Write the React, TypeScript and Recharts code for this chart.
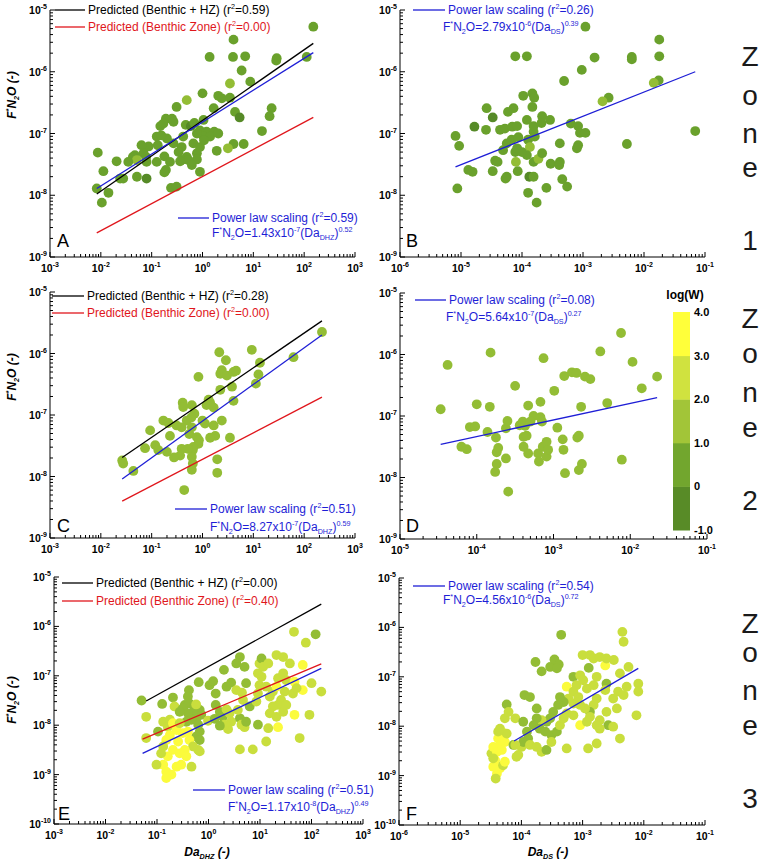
import React from "react";
import { ScatterChart, Scatter, XAxis, YAxis } from "recharts";

const FONT = "'Liberation Sans', Arial, sans-serif";

// point colours per log(W) class (-1..0, 0..1, 1..2, 2..3, 3..4)
const pointColors = ["#568a27", "#6aa12c", "#93bd35", "#c9de3d", "#fbfb3c"];
const barColors = ["#588b27", "#72a62e", "#a2c538", "#d0e23f", "#ffff3a"];
const barLabels = ["-1.0", "0", "1.0", "2.0", "3.0", "4.0"];

// all values are log10: [Da, F*N2O, log(W) class]
// Zone 1 vs Da_DHZ (panel A)
const zone1Dhz = [
  [2.18,-5.27,1],[0.61,-5.48,1],[0.14,-5.76,1],[0.6,-5.76,1],[0.84,-5.75,1],[1.46,-5.78,1],[1.45,-5.82,1],[2.05,-5.76,1],
  [0.77,-5.98,1],[0.94,-6.16,1],[0.54,-6.19,2],[0.0,-6.35,1],[-0.31,-6.46,2],[0.31,-6.39,1],[0.38,-6.43,1],[0.54,-6.42,1],
  [-0.51,-6.57,1],[0.22,-6.59,1],[0.64,-6.65,1],[0.73,-6.74,0],[1.36,-6.59,1],[1.32,-6.72,1],[1.17,-6.96,1],[-0.72,-6.76,1],
  [-0.6,-6.76,1],[-0.57,-6.81,1],[-0.83,-6.88,1],[-0.77,-6.84,1],[-0.33,-6.86,1],[-0.23,-6.88,0],[-0.16,-6.83,1],[-0.05,-6.95,1],
  [0.08,-6.97,1],[0.23,-6.97,1],[0.02,-7.05,1],[-0.11,-7.0,1],[0.15,-7.05,1],[-0.38,-7.05,1],[-0.57,-7.16,1],[-0.41,-7.22,1],
  [-0.18,-7.16,1],[-0.05,-7.22,1],[0.03,-7.11,1],[-0.11,-7.32,1],[-0.31,-7.38,1],[-0.47,-7.3,1],[-0.41,-7.43,1],[-0.28,-7.43,1],
  [-0.11,-7.42,1],[-0.21,-7.51,1],[-0.05,-7.62,1],[-0.44,-7.45,1],[-0.7,-7.08,1],[-0.88,-7.19,1],[-0.75,-7.37,1],[-0.64,-7.46,1],
  [-0.72,-7.59,1],[-0.75,-7.63,1],[-0.62,-7.88,1],[-0.51,-7.86,1],[-0.9,-7.46,1],[-1.1,-7.46,1],[-1.06,-7.21,1],[-1.2,-7.19,1],
  [-1.16,-7.32,1],[-1.11,-7.38,1],[-1.33,-7.35,1],[-1.37,-7.38,1],[-1.29,-7.43,2],[-1.46,-7.46,1],[-1.69,-7.45,1],[-1.1,-7.73,0],
  [-1.29,-7.7,1],[-1.62,-7.73,1],[-1.56,-7.73,1],[-1.95,-7.61,1],[-2.06,-7.31,1],[-2.08,-7.89,1],[-1.85,-7.96,1],[-1.98,-8.12,1],
  [0.61,-7.17,1],[0.5,-7.24,2],[0.28,-7.28,1],[0.81,-7.17,1],[-0.9,-7.05,1],[-0.81,-7.03,1],[0.31,-7.0,1],[0.02,-6.78,1],
];

// Zone 1 vs Da_DS (panel B)
const zone1Ds = [
  [-2.96,-5.27,1],[-4.11,-5.75,1],[-3.92,-5.75,1],[-2.81,-5.77,1],[-2.2,-5.76,1],[-2.2,-5.8,1],[-1.75,-5.48,1],[-1.75,-5.75,1],
  [-3.02,-5.97,1],[-3.31,-6.15,1],[-1.76,-6.14,1],[-1.84,-6.18,2],[-2.58,-6.42,1],[-2.68,-6.48,2],[-3.98,-6.39,1],[-3.83,-6.35,1],
  [-3.8,-6.42,1],[-3.83,-6.57,1],[-4.58,-6.59,1],[-4.14,-6.59,1],[-4.23,-6.65,1],[-3.92,-6.78,1],[-3.67,-6.72,1],[-3.54,-6.78,1],
  [-3.68,-6.83,1],[-4.48,-6.74,0],[-4.78,-6.89,0],[-4.59,-6.94,1],[-4.36,-6.94,1],[-4.28,-6.92,1],[-4.16,-6.89,1],[-4.08,-6.88,1],
  [-5.09,-7.04,1],[-5.03,-7.2,1],[-5.06,-7.89,1],[-4.88,-7.59,1],[-4.81,-7.62,1],[-4.48,-7.61,1],[-4.44,-7.44,1],[-4.4,-7.46,1],
  [-4.25,-7.7,1],[-4.27,-7.73,1],[-4.31,-7.27,1],[-4.25,-7.16,1],[-4.11,-7.3,1],[-4.1,-7.46,2],[-4.07,-7.61,1],[-4.17,-7.1,1],
  [-4.06,-7.06,1],[-3.9,-7.1,1],[-3.81,-6.97,1],[-3.79,-7.05,1],[-3.87,-7.22,2],[-3.92,-7.35,1],[-3.81,-7.46,1],[-3.88,-7.7,0],
  [-3.81,-7.7,1],[-3.9,-7.96,1],[-3.76,-8.12,1],[-3.73,-7.41,2],[-3.67,-7.32,1],[-3.53,-7.49,1],[-3.6,-7.88,1],[-3.38,-7.16,1],
  [-3.38,-7.46,1],[-3.39,-7.51,1],[-3.34,-7.74,1],[-3.26,-7.86,1],[-3.2,-6.84,1],[-3.08,-6.88,1],[-3.05,-6.99,1],[-2.96,-6.99,1],
  [-3.08,-7.19,1],[-3.1,-7.24,1],[-2.28,-7.17,1],[-1.16,-6.96,1],[-3.81,-6.88,1],[-4.08,-7.24,1],[-4.0,-7.3,1],
];

// Zone 2 (all in the 1-2 class): [Da, F*N2O]
const zone2Dhz = [
  [2.35,-5.65],[1.79,-6.06],[1.13,-6.15],[1.1,-6.34],[1.05,-6.49],[0.97,-5.94],[0.33,-5.98],[0.46,-6.11],[0.38,-6.27],
  [0.35,-6.33],[0.48,-6.36],[0.61,-6.3],[0.66,-6.28],[-0.08,-6.38],[0.35,-6.59],[0.58,-6.54],[0.61,-6.77],[0.12,-6.75],
  [0.15,-6.8],[0.08,-6.84],[0.22,-6.88],[-0.39,-6.8],[-0.21,-6.84],[-0.38,-6.87],[-0.16,-6.98],[-0.22,-7.04],[-0.31,-7.09],
  [0.0,-7.09],[0.05,-7.14],[0.22,-7.17],[0.38,-7.09],[0.54,-7.37],[0.25,-7.34],[0.15,-7.37],[-0.77,-7.09],[-0.67,-7.13],
  [-0.51,-7.17],[-0.41,-7.2],[-1.03,-7.25],[-0.64,-7.34],[-0.26,-7.31],[-0.21,-7.2],[-0.11,-7.36],[-0.08,-7.47],[-0.18,-7.52],
  [-0.19,-7.57],[-0.29,-7.55],[-0.41,-7.55],[-0.44,-7.66],[-0.21,-7.68],[-0.19,-7.79],[-0.21,-7.89],[-0.93,-7.49],[-0.87,-7.57],
  [-0.7,-7.6],[-0.56,-7.69],[-1.13,-7.54],[-1.58,-7.74],[-1.56,-7.79],[-1.36,-7.91],[0.29,-7.72],[0.29,-7.94],[-0.36,-8.22],
  [-0.07,-7.41],
];

const zone2Ds = [
  [-4.47,-6.89],[-4.38,-6.17],[-3.82,-5.97],[-3.13,-6.06],[-2.12,-5.65],[-2.39,-5.95],[-1.97,-6.12],[-1.65,-6.36],[-1.85,-6.55],
  [-2.86,-6.35],[-2.76,-6.29],[-2.7,-6.3],[-2.59,-6.36],[-2.52,-6.4],[-2.99,-6.59],[-3.5,-6.51],[-3.17,-6.77],[-4.0,-6.81],
  [-3.83,-6.85],[-3.33,-6.83],[-2.64,-6.85],[-2.3,-6.79],[-4.09,-7.18],[-4.02,-7.17],[-3.86,-7.26],[-3.75,-7.35],[-3.62,-7.2],
  [-3.6,-7.08],[-3.44,-7.15],[-3.4,-7.09],[-3.37,-7.16],[-3.26,-7.0],[-3.3,-7.09],[-3.17,-7.02],[-3.15,-7.09],[-2.95,-7.19],
  [-3.39,-7.34],[-3.35,-7.32],[-3.39,-7.5],[-3.33,-7.61],[-3.2,-7.61],[-3.14,-7.5],[-3.09,-7.42],[-3.09,-7.66],[-3.07,-7.55],
  [-3.19,-7.74],[-2.88,-7.38],[-2.87,-7.55],[-2.69,-7.35],[-2.67,-7.32],[-2.63,-7.78],[-2.67,-7.88],[-2.85,-7.93],[-2.11,-7.71],
  [-4.2,-7.5],[-4.13,-7.54],[-3.74,-7.59],[-3.72,-7.52],[-3.74,-7.78],[-3.76,-7.91],[-3.62,-7.69],[-3.59,-8.23],
];

// Zone 3 vs Da_DHZ (panel E)
const zone3Dhz = [
  [-1.3,-7.5,2],[-1.21,-7.83,3],[-0.9,-7.57,2],[-0.69,-7.44,2],[-0.66,-7.62,3],[-0.38,-7.29,2],[-0.4,-7.42,2],[-0.46,-7.59,2],
  [-0.37,-7.56,2],[-0.27,-7.62,2],[-0.17,-7.69,2],[-0.14,-7.79,2],[-0.24,-7.89,2],[-0.3,-7.73,2],[-0.4,-7.76,2],[-0.5,-7.66,2],
  [-0.56,-7.73,2],[-0.33,-7.89,2],[-0.43,-7.93,2],[-0.2,-7.99,2],[-0.17,-8.13,2],[-0.24,-8.23,2],[-0.17,-8.3,2],[-0.2,-8.5,3],
  [-0.19,-7.13,2],[0.02,-7.19,2],[0.09,-7.11,2],[0.14,-7.36,2],[0.3,-6.88,2],[0.35,-7.22,2],[0.44,-7.14,2],[0.54,-6.75,2],
  [0.61,-6.62,2],[0.7,-6.82,2],[0.73,-7.15,2],[0.54,-7.29,3],[0.65,-7.34,3],[0.14,-7.59,2],[-0.01,-7.91,3],[0.12,-7.87,2],
  [0.22,-7.73,2],[0.28,-7.83,2],[0.35,-7.68,3],[0.41,-7.76,3],[0.44,-7.93,3],[0.38,-8.08,3],[0.31,-7.99,3],[0.22,-8.01,2],
  [0.61,-7.86,2],[0.64,-7.99,3],[0.7,-8.04,3],[0.73,-7.93,2],[0.57,-7.69,3],[0.67,-7.49,3],[0.8,-7.62,2],[0.93,-7.52,3],
  [0.96,-7.36,3],[0.99,-7.19,3],[1.03,-7.02,3],[0.96,-6.95,3],[0.99,-6.75,3],[1.03,-6.65,2],[1.06,-6.82,3],[1.16,-6.75,3],
  [1.12,-7.22,3],[1.19,-7.42,3],[1.25,-7.32,3],[1.32,-7.22,4],[1.35,-7.05,3],[1.45,-6.95,3],[1.51,-7.09,3],[1.48,-7.32,3],
  [1.41,-7.49,3],[1.35,-7.59,3],[1.25,-7.62,3],[1.19,-7.76,3],[1.32,-7.83,3],[1.45,-7.73,3],[1.51,-7.59,3],[1.35,-8.04,4],
  [1.16,-8.06,3],[1.32,-6.58,3],[1.45,-6.62,3],[1.58,-6.75,3],[1.67,-7.12,4],[1.83,-6.78,4],[1.83,-7.29,4],[2.0,-7.15,3],
  [2.19,-7.32,3],[1.64,-7.36,3],[1.71,-7.25,3],[1.67,-7.79,4],[1.96,-7.79,3],[1.77,-8.26,3],[1.12,-8.33,3],[0.86,-8.49,3],
  [0.61,-8.49,3],[0.96,-7.99,2],[1.66,-6.11,3],[2.08,-6.16,2],[1.89,-6.33,3],
  [-0.98,-8.13,2],[-0.88,-7.93,3],[-0.79,-8.03,3],[-0.75,-8.2,4],[-0.82,-8.3,4],[-0.59,-8.33,4],[-0.62,-8.1,4],[-0.5,-8.16,4],
  [-0.4,-8.13,4],[-0.37,-8.3,4],[-0.3,-8.43,3],[-0.46,-8.5,4],[-0.56,-8.57,4],[-0.69,-8.5,4],[-0.79,-8.63,4],[-0.88,-8.8,4],
  [-0.82,-8.94,4],[-0.72,-9.0,4],[-0.62,-8.84,4],[-0.53,-8.8,4],[-0.33,-8.84,3],[-0.17,-8.53,3],[-0.43,-8.63,4],[-0.92,-8.57,3],
  [-0.88,-8.43,3],[-0.75,-7.89,3],[-0.69,-7.96,4],[-0.56,-7.96,3],[-0.82,-9.07,4],[-1.01,-8.8,3],[-1.21,-8.26,3],[-0.24,-7.58,3],
];

// Zone 3 vs Da_DS (panel F)
const zone3Ds = [
  [-4.49,-8.55,3],[-4.46,-8.42,4],[-4.38,-8.25,4],[-4.32,-8.11,4],[-4.3,-8.18,4],[-4.35,-8.38,4],[-4.4,-8.52,4],[-4.43,-8.69,4],
  [-4.46,-8.82,4],[-4.4,-8.96,4],[-4.42,-9.06,3],[-4.35,-8.85,4],[-4.3,-8.79,3],[-4.27,-8.72,4],[-4.32,-8.48,4],[-4.27,-8.32,4],
  [-4.24,-8.15,3],[-4.38,-8.11,3],[-4.35,-8.05,3],[-4.27,-7.84,3],[-4.24,-7.56,2],[-4.13,-8.38,2],[-4.08,-8.62,3],[-4.0,-8.42,3],
  [-4.46,-8.65,3],
  [-3.35,-6.15,2],[-2.35,-6.09,3],[-2.33,-6.29,3],[-3.77,-6.7,2],[-3.67,-6.89,2],[-3.53,-6.8,2],[-3.46,-6.65,2],[-3.39,-6.75,2],
  [-3.42,-6.83,2],[-2.9,-6.82,2],[-2.63,-6.77,4],[-3.0,-6.56,3],[-2.88,-6.56,3],[-2.82,-6.63,3],[-2.72,-6.6,3],[-2.61,-6.63,3],
  [-2.49,-6.66,3],[-2.25,-6.8,3],[-2.39,-6.93,3],[-2.09,-7.14,3],[-2.09,-7.3,3],[-2.12,-7.78,3],[-2.28,-7.2,3],[-2.42,-7.3,3],
  [-2.33,-7.37,3],[-2.5,-7.44,3],[-2.44,-7.64,3],[-2.61,-7.71,3],[-2.72,-7.88,3],[-2.58,-7.98,2],[-2.5,-8.01,3],[-2.39,-8.25,3],
  [-2.72,-8.05,3],[-2.77,-7.98,3],
  [-3.15,-7.0,2],[-3.04,-6.97,3],[-2.99,-7.07,3],[-3.1,-7.17,3],[-3.26,-7.2,4],[-3.15,-7.3,3],[-3.07,-7.41,3],[-2.93,-7.24,3],
  [-2.82,-7.17,3],[-2.77,-7.0,3],[-2.61,-7.14,2],[-2.63,-7.27,3],[-2.77,-7.44,3],[-2.82,-7.57,3],[-2.88,-7.71,2],[-2.96,-7.64,3],
  [-3.04,-7.57,3],[-3.15,-7.54,3],[-3.23,-7.44,3],[-3.31,-7.51,2],[-3.37,-7.41,2],[-3.4,-7.57,2],[-3.48,-7.71,2],[-3.53,-7.84,2],
  [-3.59,-7.91,2],[-3.67,-7.88,3],[-3.75,-7.84,2],[-3.8,-7.98,2],[-3.7,-8.05,2],[-3.61,-8.11,2],[-3.51,-8.18,2],[-3.42,-8.11,2],
  [-3.37,-7.98,3],[-3.31,-7.84,3],[-3.26,-7.74,3],[-3.15,-7.78,3],[-3.04,-7.98,4],[-2.93,-7.91,3],[-2.88,-7.81,3],[-3.95,-7.37,2],
  [-3.86,-7.41,2],[-3.75,-7.64,2],[-4.1,-7.84,3],[-3.97,-7.91,2],[-3.91,-8.11,2],[-3.89,-8.25,2],[-3.97,-8.32,2],[-3.86,-8.38,3],
  [-3.75,-8.42,3],[-3.67,-8.52,3],[-3.59,-8.48,2],[-3.51,-8.32,3],[-3.26,-8.45,3],[-2.91,-8.45,3],[-2.77,-8.35,3],[-4.21,-7.71,3],
  [-4.1,-8.38,3],[-4.05,-8.58,3],
];

// fitted / predicted lines, end points in log10
const zone1HzLine = [[-2.08,-7.98],[2.18,-5.54]];
const zone1BenthicLine = [[-2.08,-8.61],[2.18,-6.74]];
const zone1DhzFit = [[-2.08,-7.89],[2.18,-5.69]];
const zone1DsFit = [[-5.09,-7.54],[-1.16,-6.0]];
const zone2HzLine = [[-1.58,-7.69],[2.35,-5.47]];
const zone2BenthicLine = [[-1.58,-8.4],[2.35,-6.71]];
const zone2DhzFit = [[-1.58,-8.04],[2.35,-5.7]];
const zone2DsFit = [[-4.47,-7.46],[-1.65,-6.7]];
const zone3HzLine = [[-1.21,-7.51],[2.19,-5.55]];
const zone3BenthicLine = [[-1.28,-8.28],[2.19,-6.76]];
const zone3DhzFit = [[-1.28,-8.57],[2.19,-6.85]];
const zone3DsFit = [[-4.12,-8.3],[-2.09,-6.83]];

const BLACK = "#000000";
const RED = "#e0161c";
const BLUE = "#1e1ed6";

const toPoints = (rows: number[][], level?: number) =>
  rows.map((r) => ({ x: 10 ** r[0], y: 10 ** r[1], fill: pointColors[level ?? r[2]] }));
const toLine = (rows: number[][]) => rows.map((r) => ({ x: 10 ** r[0], y: 10 ** r[1] }));

function logTicks(lo: number, hi: number) {
  const out: number[] = [];
  for (let e = lo; e < hi; e++) for (let m = 1; m < 10; m++) out.push(m * 10 ** e);
  out.push(10 ** hi);
  return out;
}

const expOf = (v: number) => Math.round(Math.log10(v));
const isMajor = (v: number) => Math.abs(Math.log10(v) - expOf(v)) < 1e-6;

function XTick(props: any) {
  const { x, y, payload } = props;
  const major = isMajor(payload.value);
  return (
    <g>
      <line x1={x} x2={x} y1={y} y2={y - (major ? 5 : 3)} stroke="#000" />
      {major && (
        <text x={x} y={y + 15} textAnchor="middle" fontFamily={FONT} fontSize={10.5} fontWeight="bold" fill="#000">
          10<tspan dy={-5} fontSize={7}>{expOf(payload.value)}</tspan>
        </text>
      )}
    </g>
  );
}

function YTick(props: any) {
  const { x, y, payload } = props;
  const major = isMajor(payload.value);
  return (
    <g>
      <line x1={x} x2={x + (major ? 5 : 3)} y1={y} y2={y} stroke="#000" />
      {major && (
        <text x={x - 3} y={y + 4} textAnchor="end" fontFamily={FONT} fontSize={10.5} fontWeight="bold" fill="#000">
          10<tspan dy={-5} fontSize={7}>{expOf(payload.value)}</tspan>
        </text>
      )}
    </g>
  );
}

const Dot = (p: any) => <circle cx={p.cx} cy={p.cy} r={4.9} fill={p.payload.fill} />;
const NoDot = () => <g />;

function Panel({ left, top, w, h, xr, yr, points, lines }: any) {
  const ML = 46, MR = 14, MT = 8, MB = 28;
  return (
    <div style={{ position: "absolute", left: left - ML, top: top - MT }}>
      <ScatterChart width={w + ML + MR} height={h + MT + MB} margin={{ top: MT, right: MR, bottom: 0, left: 0 }}>
        <XAxis
          type="number"
          dataKey="x"
          scale="log"
          domain={[10 ** xr[0], 10 ** xr[1]]}
          allowDataOverflow
          ticks={logTicks(xr[0], xr[1])}
          interval={0}
          tick={XTick}
          tickLine={false}
          tickSize={0}
          tickMargin={0}
          height={MB}
          axisLine={{ stroke: "#000" }}
        />
        <YAxis
          type="number"
          dataKey="y"
          scale="log"
          domain={[10 ** yr[0], 10 ** yr[1]]}
          allowDataOverflow
          ticks={logTicks(yr[0], yr[1])}
          interval={0}
          tick={YTick}
          tickLine={false}
          tickSize={0}
          tickMargin={0}
          width={ML}
          axisLine={{ stroke: "#000" }}
        />
        <Scatter data={points} shape={Dot} isAnimationActive={false} />
        {lines.map((l: any, i: number) => (
          <Scatter
            key={i}
            data={toLine(l.rows)}
            line={{ stroke: l.color, strokeWidth: 1.3 }}
            shape={NoDot}
            isAnimationActive={false}
          />
        ))}
      </ScatterChart>
    </div>
  );
}

type Part = [string, string?];

function Rich({ x, y, parts, size = 12, fill = "#000", bold = false, italic = false, anchor = "start", transform }: any) {
  let shift = 0;
  return (
    <text
      x={x}
      y={y}
      fontFamily={FONT}
      fontSize={size}
      fill={fill}
      fontWeight={bold ? "bold" : "normal"}
      fontStyle={italic ? "italic" : "normal"}
      textAnchor={anchor}
      transform={transform}
    >
      {parts.map(([t, k]: Part, i: number) => {
        const target = k === "sup" ? -0.4 * size : k === "sub" ? 0.25 * size : 0;
        const dy = target - shift;
        shift = target;
        return (
          <tspan key={i} dy={dy} fontSize={k ? size * 0.6 : size}>
            {t}
          </tspan>
        );
      })}
    </text>
  );
}

function Key({ x1, x2, y, color, parts }: any) {
  return (
    <g>
      <line x1={x1} x2={x2} y1={y} y2={y} stroke={color} strokeWidth={1.3} />
      <Rich x={x2 + 3} y={y + 4} parts={parts} fill={color} />
    </g>
  );
}

const hzText = (r: string): Part[] => [["Predicted (Benthic + HZ) (r"], ["2", "sup"], ["=" + r + ")"]];
const benthicText = (r: string): Part[] => [["Predicted (Benthic Zone) (r"], ["2", "sup"], ["=" + r + ")"]];
const fitText = (r: string): Part[] => [["Power law scaling (r"], ["2", "sup"], ["=" + r + ")"]];
const formula = (c: string, e: string, sub: string, p: string): Part[] => [
  ["F"], ["*", "sup"], ["N"], ["2", "sub"], ["O=" + c + "x10"], [e, "sup"], ["(Da"], [sub, "sub"], [")"], [p, "sup"],
];
const yTitle: Part[] = [["F"], ["*", "sup"], ["N"], ["2", "sub"], ["O (-)"]];

function Zone({ n, ys }: any) {
  const chars = ["Z", "o", "n", "e", String(n)];
  return (
    <g>
      {chars.map((c, i) => (
        <text key={i} x={750} y={ys[i]} textAnchor="middle" fontFamily={FONT} fontSize={28} fill="#1a1a1a">
          {c}
        </text>
      ))}
    </g>
  );
}

function Letter({ x, y, t }: any) {
  return (
    <text x={x} y={y} fontFamily={FONT} fontSize={18} fill="#000">
      {t}
    </text>
  );
}

export default function App() {
  const barTop = 312, barH = 43.6;
  return (
    <div style={{ position: "absolute", left: 0, top: 0, width: 762, height: 865, background: "#fff" }}>
      <Panel left={50} top={10} w={305} h={247} xr={[-3, 3]} yr={[-9, -5]} points={toPoints(zone1Dhz)}
        lines={[{ rows: zone1HzLine, color: BLACK }, { rows: zone1BenthicLine, color: RED }, { rows: zone1DhzFit, color: BLUE }]} />
      <Panel left={400} top={10} w={305} h={247} xr={[-6, -1]} yr={[-9, -5]} points={toPoints(zone1Ds)}
        lines={[{ rows: zone1DsFit, color: BLUE }]} />
      <Panel left={50} top={292} w={305} h={246} xr={[-3, 3]} yr={[-9, -5]} points={toPoints(zone2Dhz, 2)}
        lines={[{ rows: zone2HzLine, color: BLACK }, { rows: zone2BenthicLine, color: RED }, { rows: zone2DhzFit, color: BLUE }]} />
      <Panel left={400} top={293} w={307} h={246} xr={[-5, -1]} yr={[-9, -5]} points={toPoints(zone2Ds, 2)}
        lines={[{ rows: zone2DsFit, color: BLUE }]} />
      <Panel left={54} top={577} w={309} h={247} xr={[-3, 3]} yr={[-10, -5]} points={toPoints(zone3Dhz)}
        lines={[{ rows: zone3HzLine, color: BLACK }, { rows: zone3BenthicLine, color: RED }, { rows: zone3DhzFit, color: BLUE }]} />
      <Panel left={399} top={578} w={306} h={247} xr={[-6, -1]} yr={[-10, -5]} points={toPoints(zone3Ds)}
        lines={[{ rows: zone3DsFit, color: BLUE }]} />

      <svg width={762} height={865} style={{ position: "absolute", left: 0, top: 0, pointerEvents: "none" }}>
        {/* panel A */}
        <Key x1={55} x2={85} y={10} color={BLACK} parts={hzText("0.59")} />
        <Key x1={55} x2={85} y={27} color={RED} parts={benthicText("0.00")} />
        <Key x1={178} x2={209} y={218} color={BLUE} parts={fitText("0.59")} />
        <Rich x={212} y={237} parts={formula("1.43", "-7", "DHZ", "0.52")} fill={BLUE} />
        <Letter x={57} y={247} t="A" />
        {/* panel B */}
        <Key x1={413} x2={445} y={10} color={BLUE} parts={fitText("0.26")} />
        <Rich x={443} y={31} parts={formula("2.79", "-6", "DS", "0.39")} fill={BLUE} />
        <Letter x={406} y={247} t="B" />
        {/* panel C */}
        <Key x1={52} x2={84} y={296} color={BLACK} parts={hzText("0.28")} />
        <Key x1={52} x2={84} y={313} color={RED} parts={benthicText("0.00")} />
        <Key x1={175} x2={207} y={509} color={BLUE} parts={fitText("0.51")} />
        <Rich x={210} y={531} parts={formula("8.27", "-7", "DHZ", "0.59")} fill={BLUE} />
        <Letter x={57} y={532} t="C" />
        {/* panel D */}
        <Key x1={415} x2={446} y={300} color={BLUE} parts={fitText("0.08")} />
        <Rich x={446} y={321} parts={formula("5.64", "-7", "DS", "0.27")} fill={BLUE} />
        <Letter x={406} y={532} t="D" />
        {/* panel E */}
        <Key x1={62} x2={93} y={583} color={BLACK} parts={hzText("0.00")} />
        <Key x1={62} x2={93} y={601} color={RED} parts={benthicText("0.40")} />
        <Key x1={193} x2={225} y={790} color={BLUE} parts={fitText("0.51")} />
        <Rich x={228} y={811} parts={formula("1.17", "-8", "DHZ", "0.49")} fill={BLUE} />
        <Letter x={58} y={820} t="E" />
        {/* panel F */}
        <Key x1={413} x2={445} y={586} color={BLUE} parts={fitText("0.54")} />
        <Rich x={443} y={604} parts={formula("4.56", "-6", "DS", "0.72")} fill={BLUE} />
        <Letter x={406} y={820} t="F" />

        {/* axis titles */}
        <Rich x={16} y={95} anchor="middle" bold italic parts={yTitle} transform="rotate(-90 16 95)" />
        <Rich x={16} y={377} anchor="middle" bold italic parts={yTitle} transform="rotate(-90 16 377)" />
        <Rich x={16} y={700} anchor="middle" bold italic parts={yTitle} transform="rotate(-90 16 700)" />
        <Rich x={207} y={856} anchor="middle" bold italic parts={[["Da"], ["DHZ", "sub"], [" (-)"]]} />
        <Rich x={548} y={856} anchor="middle" bold italic parts={[["Da"], ["DS", "sub"], [" (-)"]]} />

        {/* colour bar */}
        <text x={685} y={299} textAnchor="middle" fontFamily={FONT} fontSize={12} fontWeight="bold">log(W)</text>
        {barColors.map((c, i) => (
          <rect key={i} x={673} y={barTop + (4 - i) * barH} width={17} height={barH + 0.5} fill={c} />
        ))}
        {barLabels.map((t, i) => (
          <text key={t} x={694} y={barTop + 5 * barH - i * barH + 4} fontFamily={FONT} fontSize={11} fontWeight="bold">
            {t}
          </text>
        ))}

        <Zone n={1} ys={[66, 105, 143, 177, 250]} />
        <Zone n={2} ys={[328, 363, 402, 437, 510]} />
        <Zone n={3} ys={[633, 662, 700, 735, 808]} />
      </svg>
    </div>
  );
}
